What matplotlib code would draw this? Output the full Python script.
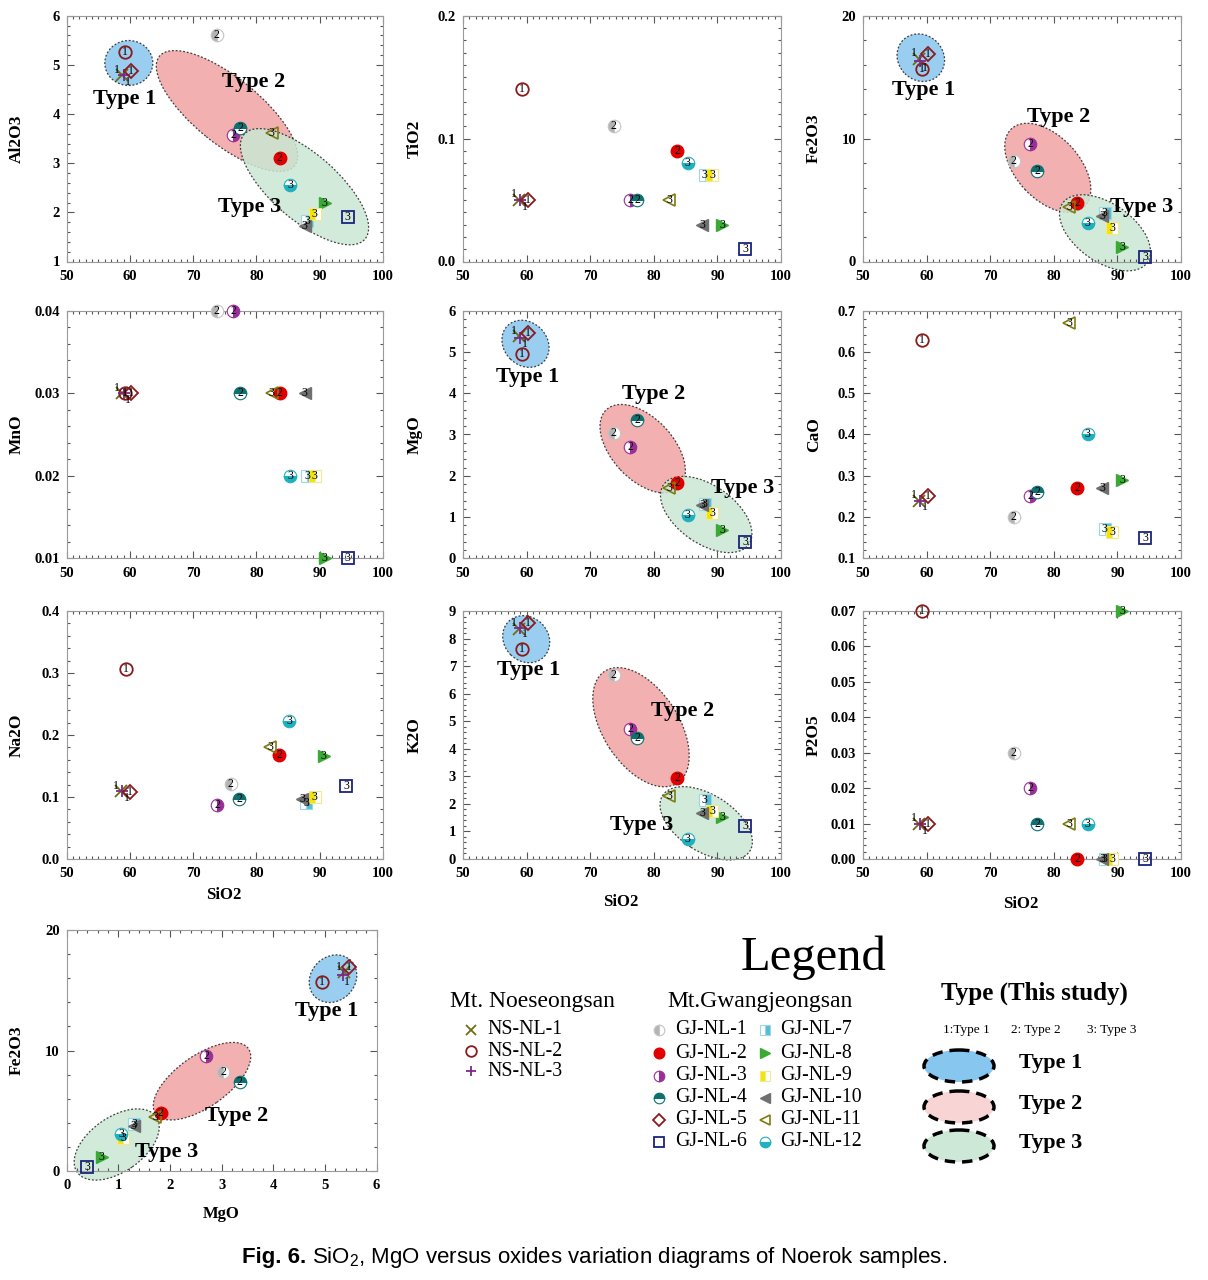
import matplotlib
matplotlib.use('Agg')
import matplotlib.pyplot as plt
from matplotlib.patches import Ellipse
from matplotlib.transforms import IdentityTransform
from matplotlib.ticker import MultipleLocator, FormatStrFormatter

# ---------------- data ----------------
samples = ['NS-NL-1', 'NS-NL-2', 'NS-NL-3', 'GJ-NL-1', 'GJ-NL-2', 'GJ-NL-3', 'GJ-NL-4',
           'GJ-NL-5', 'GJ-NL-6', 'GJ-NL-7', 'GJ-NL-8', 'GJ-NL-9', 'GJ-NL-10', 'GJ-NL-11', 'GJ-NL-12']
types = [1, 1, 1, 2, 2, 2, 2, 1, 3, 3, 3, 3, 3, 3, 3]
sio2 = [58.8, 59.2, 59.0, 73.7, 83.7, 76.3, 77.4, 60.2, 94.4, 88.0, 90.8, 89.2, 87.6, 82.4, 85.3]
sio2_na2o = [58.6, 59.3, 58.8, 75.9, 83.6, 73.8, 77.3, 60.0, 94.2, 87.9, 90.6, 89.2, 87.2, 82.2, 85.2]
al2o3 = [4.79, 5.27, 4.80, 5.60, 3.10, 3.58, 3.72, 4.88, 1.90, 1.83, 2.20, 1.97, 1.72, 3.61, 2.56]
tio2 = [0.05, 0.14, 0.05, 0.11, 0.09, 0.05, 0.05, 0.05, 0.01, 0.07, 0.03, 0.07, 0.03, 0.05, 0.08]
fe2o3 = [16.5, 15.7, 16.3, 8.2, 4.8, 9.55, 7.4, 16.9, 0.35, 3.93, 1.17, 2.7, 3.7, 4.47, 3.1]
mno = [0.03, 0.03, 0.03, 0.04, 0.03, 0.04, 0.03, 0.03, 0.01, 0.02, 0.01, 0.02, 0.03, 0.03, 0.02]
mgo = [5.38, 4.95, 5.35, 3.03, 1.82, 2.70, 3.35, 5.47, 0.40, 1.31, 0.68, 1.09, 1.30, 1.71, 1.06]
cao = [0.24, 0.63, 0.24, 0.20, 0.27, 0.25, 0.26, 0.25, 0.15, 0.17, 0.29, 0.163, 0.27, 0.67, 0.40]
na2o = [0.109, 0.306, 0.110, 0.121, 0.167, 0.087, 0.096, 0.108, 0.117, 0.090, 0.166, 0.100, 0.097, 0.180, 0.223]
k2o = [8.36, 7.61, 8.40, 6.67, 2.95, 4.70, 4.40, 8.55, 1.20, 2.15, 1.54, 1.75, 1.66, 2.27, 0.72]
p2o5 = [0.01, 0.07, 0.01, 0.03, 0.00, 0.02, 0.01, 0.01, 0.00, 0.00, 0.07, 0.00, 0.00, 0.01, 0.01]

# ---------------- styles ----------------
W, H, DPI = 1208, 1280, 100
SERIF = 'Liberation Serif'
SANS = 'Liberation Sans'

styles = [
    dict(marker='x', color='#6e6e10', ms=8, mew=1.3),
    dict(marker='o', mfc='none', mec='#8b1a1a', ms=9, mew=1.3, fillstyle='none'),
    dict(marker='+', color='#7b2a8b', ms=9, mew=1.3),
    dict(marker='o', fillstyle='left', mfc='#b4b4b4', mfcalt='white', mec='#c4c4c4', ms=9, mew=0.8),
    dict(marker='o', mfc='#e00000', mec='#e00000', ms=9),
    dict(marker='o', fillstyle='right', mfc='#9a2f9a', mfcalt='white', mec='#9a2f9a', ms=9, mew=0.8),
    dict(marker='o', fillstyle='top', mfc='#0f7070', mfcalt='white', mec='#0f7070', ms=9, mew=0.8),
    dict(marker='D', mfc='none', mec='#8b1a1a', ms=7, mew=1.3, fillstyle='none'),
    dict(marker='s', mfc='none', mec='#1a237e', ms=9, mew=1.3, fillstyle='none'),
    dict(marker='s', fillstyle='right', mfc='#55bcd5', mfcalt='white', mec='#9ad8e6', ms=9, mew=0.8),
    dict(marker='>', mfc='#3aaa35', mec='#3aaa35', ms=9),
    dict(marker='s', fillstyle='left', mfc='#f5e400', mfcalt='white', mec='#f2e98a', ms=9, mew=0.8),
    dict(marker='<', mfc='#707070', mec='#707070', ms=9),
    dict(marker='<', mfc='none', mec='#7d7d10', ms=9, mew=1.2, fillstyle='none'),
    dict(marker='o', fillstyle='bottom', mfc='#1fb1bf', mfcalt='white', mec='#1fb1bf', ms=9, mew=0.8),
]
label_offsets = {0: (-4, 4), 2: (3, -5)}

ELL_FILL = {1: '#87c6ef', 2: '#f0a3a3', 3: '#cbe7d4'}

fig = plt.figure(figsize=(W / DPI, H / DPI), dpi=DPI)


def px_axes(x0, x1, y0, y1):
    return fig.add_axes([x0 / W, 1 - y1 / H, (x1 - x0) / W, (y1 - y0) / H])


def style_axes(ax, xlim, xmaj, xmin, xfmt, ylim, ymaj, ymin, yfmt):
    ax.set_xlim(*xlim)
    ax.set_ylim(*ylim)
    ax.xaxis.set_major_locator(MultipleLocator(xmaj))
    ax.xaxis.set_minor_locator(MultipleLocator(xmin))
    ax.yaxis.set_major_locator(MultipleLocator(ymaj))
    ax.yaxis.set_minor_locator(MultipleLocator(ymin))
    ax.xaxis.set_major_formatter(FormatStrFormatter(xfmt))
    ax.yaxis.set_major_formatter(FormatStrFormatter(yfmt))
    ax.tick_params(which='both', direction='in', top=True, right=True, color='#555555', width=0.8)
    ax.tick_params(which='major', length=5)
    ax.tick_params(which='minor', length=2.5)
    ax.tick_params(axis='x', pad=6, labelsize=10.5)
    ax.tick_params(axis='y', pad=5, labelsize=10.5)
    for lbl in ax.get_xticklabels() + ax.get_yticklabels():
        lbl.set_fontfamily(SERIF)
        lbl.set_fontweight('bold')
    for sp in ax.spines.values():
        sp.set_color('#9a9a9a')
        sp.set_linewidth(0.8)


def plot_points(ax, xs, ys):
    for i, (x, y) in enumerate(zip(xs, ys)):
        ax.plot([x], [y], linestyle='none', clip_on=False, zorder=5, **styles[i])
    for i, (x, y) in enumerate(zip(xs, ys)):
        dx, dy = label_offsets.get(i, (0, 0))
        ax.annotate(str(types[i]), (x, y), xytext=(dx, dy), textcoords='offset points',
                    ha='center', va='center', fontsize=8.5, family=SERIF, color='black',
                    zorder=6, annotation_clip=False)


def add_ellipses(ax, ells):
    for t, (cx, cy, a, b, ang) in ells:
        e = Ellipse((cx, H - cy), 2 * a, 2 * b, angle=ang, transform=IdentityTransform(),
                    facecolor=ELL_FILL[t], alpha=0.85, edgecolor='#222222', linewidth=0.9,
                    linestyle=(0, (1.5, 1.5)), clip_on=False, zorder=1)
        ax.add_patch(e)


def type_labels(labels):
    for txt, (x, y) in labels:
        fig.text(x / W, 1 - y / H, txt, ha='center', va='center', fontsize=16,
                 fontweight='bold', family=SERIF, zorder=10)


def ylab(txt, x, y):
    fig.text(x / W, 1 - y / H, txt, rotation=90, ha='center', va='center', fontsize=12.5,
             fontweight='bold', family=SERIF)


def xlab(txt, x, y):
    fig.text(x / W, 1 - y / H, txt, ha='center', va='center', fontsize=12,
             fontweight='bold', family=SERIF)


cols = [(66.7, 383), (463, 781), (863, 1181)]
rows = [(15.7, 261.5), (310.7, 558.3), (611, 859)]
ylab_x = [17, 415, 814]

panels = [
    ('Al2O3', sio2, al2o3, (1, 6), 1, 0.2, '%d'),
    ('TiO2', sio2, tio2, (0, 0.2), 0.1, 0.01, '%.1f'),
    ('Fe2O3', sio2, fe2o3, (0, 20), 10, 2, '%d'),
    ('MnO', sio2, mno, (0.01, 0.04), 0.01, 0.002, '%.2f'),
    ('MgO', sio2, mgo, (0, 6), 1, 0.2, '%d'),
    ('CaO', sio2, cao, (0.1, 0.7), 0.1, 0.02, '%.1f'),
    ('Na2O', sio2_na2o, na2o, (0, 0.4), 0.1, 0.02, '%.1f'),
    ('K2O', sio2, k2o, (0, 9), 1, 0.2, '%d'),
    ('P2O5', sio2, p2o5, (0, 0.07), 0.01, 0.002, '%.2f'),
]

ellipses = {
    'Al2O3': [(1, (128.8, 63, 24, 22.5, 0)), (2, (227, 111, 87, 33, -39)), (3, (304.5, 186.7, 80, 33, -41))],
    'Fe2O3': [(1, (920.8, 57.7, 25, 22.5, -45)), (2, (1047.8, 167.8, 53.3, 31.5, -47)), (3, (1105, 232.8, 51.7, 29.1, -35))],
    'MgO': [(1, (525.5, 343.8, 25.5, 21.5, -45)), (2, (642.7, 448.7, 53.3, 30.7, -47)), (3, (706.2, 514.5, 52, 29, -35))],
    'K2O': [(1, (526.2, 639.2, 25, 22, -45)), (2, (641, 727.2, 66.7, 37.8, -57)), (3, (706.2, 823.3, 51.7, 28.4, -32.5))],
}
tlabels = {
    'Al2O3': [('Type 1', (125, 99)), ('Type 2', (254, 82)), ('Type 3', (250, 207))],
    'Fe2O3': [('Type 1', (924, 90)), ('Type 2', (1059, 117)), ('Type 3', (1142, 207))],
    'MgO': [('Type 1', (528, 377)), ('Type 2', (654, 394)), ('Type 3', (743, 488))],
    'K2O': [('Type 1', (529, 670)), ('Type 2', (683, 711)), ('Type 3', (642, 825))],
}

for k, (name, xs, ys, ylim, ymaj, ymin, yfmt) in enumerate(panels):
    r, c = divmod(k, 3)
    ax = px_axes(cols[c][0], cols[c][1], rows[r][0], rows[r][1])
    style_axes(ax, (50, 100), 10, 1, '%d', ylim, ymaj, ymin, yfmt)
    if name in ellipses:
        add_ellipses(ax, ellipses[name])
        type_labels(tlabels[name])
    plot_points(ax, xs, ys)
    ylab(name, ylab_x[c], (rows[r][0] + rows[r][1]) / 2)

xlab('SiO2', 224, 895)
xlab('SiO2', 621, 902)
xlab('SiO2', 1021, 904)

# MgO vs Fe2O3 panel
ax = px_axes(66.7, 376.5, 930, 1171)
style_axes(ax, (0, 6), 1, 0.2, '%d', (0, 20), 10, 2, '%d')
add_ellipses(ax, [(1, (333, 978.7, 25.5, 22, 45)), (2, (202, 1081.2, 56.7, 25.8, 35)),
                  (3, (116.7, 1144.5, 48.3, 27.3, 35))])
type_labels([('Type 1', (327, 1011)), ('Type 2', (237, 1116)), ('Type 3', (167, 1152))])
plot_points(ax, mgo, fe2o3)
ylab('Fe2O3', 17, (930 + 1171) / 2)
xlab('MgO', 221, 1214)

# ---------------- legend ----------------
lax = fig.add_axes([0, 0, 1, 1], facecolor='none')
lax.set_xlim(0, W)
lax.set_ylim(H, 0)
lax.axis('off')


def ftext(x, y, s, **kw):
    return lax.text(x, y, s, **kw)


ftext(814, 958, 'Legend', ha='center', va='center', fontsize=35, family=SERIF)
ftext(532, 1001, 'Mt. Noeseongsan', ha='center', va='center', fontsize=17, family=SERIF)
ftext(760, 1001, 'Mt.Gwangjeongsan', ha='center', va='center', fontsize=17, family=SERIF)
ftext(1034, 993, 'Type (This study)', ha='center', va='center', fontsize=18,
      fontweight='bold', family=SERIF)
ftext(966, 1030, '1:Type 1', ha='center', va='center', fontsize=9.5, family=SERIF)
ftext(1036, 1030, '2: Type 2', ha='center', va='center', fontsize=9.5, family=SERIF)
ftext(1112, 1030, '3: Type 3', ha='center', va='center', fontsize=9.5, family=SERIF)

ns_y = [1030, 1051, 1071]
for j in range(3):
    lax.plot([471], [ns_y[j]], linestyle='none', **{**styles[j], 'ms': styles[j]['ms'] * 0.85})
    ftext(487, ns_y[j], samples[j], ha='left', va='center', fontsize=14.3, family=SERIF)

gj_y = [1030, 1053, 1076, 1098, 1120, 1142]
for j in range(12):
    i = 3 + j
    col, row = divmod(j, 6)
    mx = 659 if col == 0 else 765
    tx = 675 if col == 0 else 780
    st = dict(styles[i])
    st['ms'] = st['ms'] * 0.85
    lax.plot([mx], [gj_y[row]], linestyle='none', **st)
    ftext(tx, gj_y[row], samples[i], ha='left', va='center', fontsize=14.3, family=SERIF)

leg_fill = {1: '#87c6ef', 2: '#f9d4d4', 3: '#cde8d6'}
type_y = [1066, 1107, 1146]
for t, yy in zip([1, 2, 3], type_y):
    e = Ellipse((959, yy), 70, 32, facecolor=leg_fill[t], edgecolor='black', linewidth=2.5,
                linestyle=(0, (3, 2)))
    lax.add_patch(e)
    ftext(1019, yy - 3, 'Type %d' % t, ha='left', va='center', fontsize=16,
          fontweight='bold', family=SERIF)

# ---------------- caption ----------------
cap1 = ftext(242, 1257, 'Fig. 6.', ha='left', va='center', fontsize=16,
             fontweight='bold', family=SANS)
fig.canvas.draw()
bb = cap1.get_window_extent(renderer=fig.canvas.get_renderer())
x_end = bb.x1  # display px (origin bottom-left), same as image x
ftext(x_end + 6, 1257, r'SiO$_\mathregular{2}$, MgO versus oxides variation diagrams of Noerok samples.',
      ha='left', va='center', fontsize=16, family=SANS)

fig.savefig('out.png', dpi=DPI)
